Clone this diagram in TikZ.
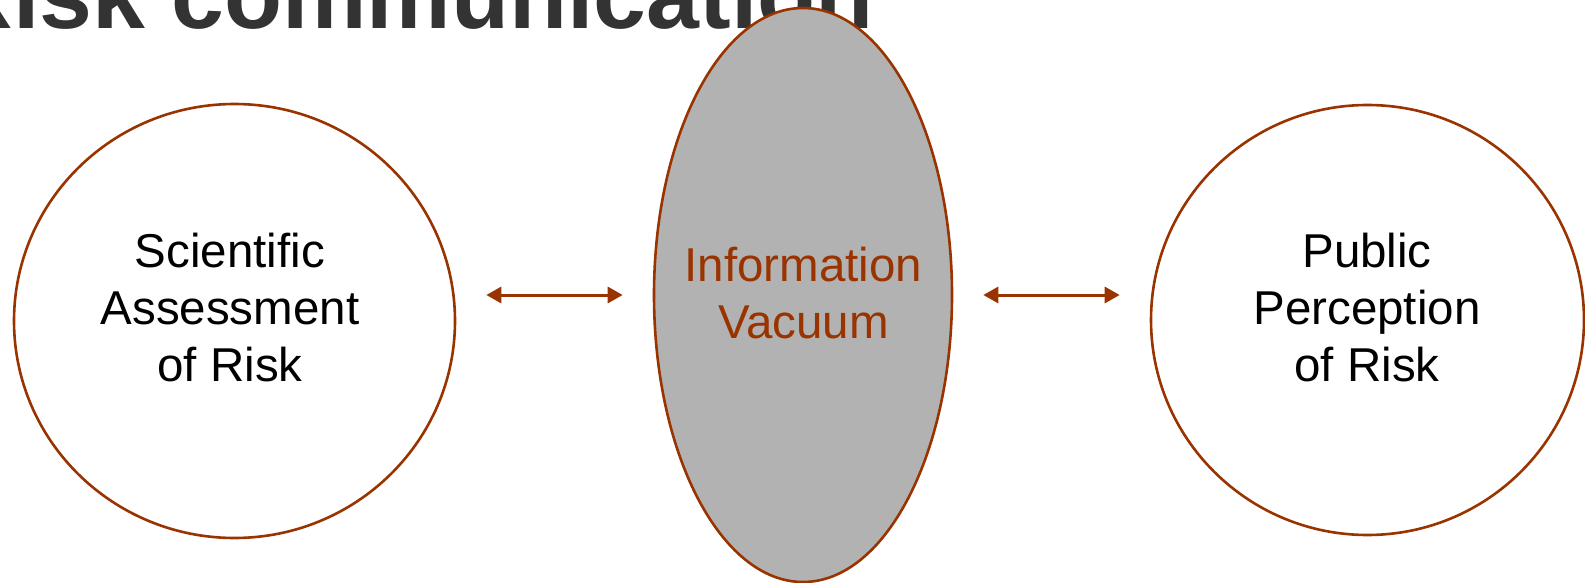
\documentclass[tikz,border=0pt]{standalone}
\usepackage{fontspec}
\setmainfont{Liberation Sans}
\usetikzlibrary{arrows.meta,shapes.geometric}
\definecolor{rust}{HTML}{993300}
\definecolor{titlegray}{HTML}{333333}
\definecolor{vacgray}{HTML}{B2B2B2}
\tikzset{
  riskshape/.style={ellipse, draw=rust, line width=2.6pt, inner sep=0pt},
  bodytext/.style={inner sep=0pt, align=center, font=\fontsize{47.5}{57}\selectfont},
  link/.style={{Triangle[length=15pt,width=16pt]}-{Triangle[length=15pt,width=16pt]}, draw=rust, line width=3pt, shorten <=30pt, shorten >=30pt}
}
\begin{document}
\begin{tikzpicture}[x=1pt,y=-1pt]
\useasboundingbox (0,0) rectangle (1585,583);
\clip (0,0) rectangle (1585,583);
\node[anchor=base east, inner sep=0pt, text=titlegray, font=\fontsize{95}{110}\selectfont\bfseries] (title) at (874,29) {Risk communication};
\node[riskshape, fill=white, minimum width=441pt, minimum height=434pt] (sci) at (234.5,321) {};
\node[riskshape, fill=vacgray, minimum width=298pt, minimum height=574pt] (vac) at (803,295) {};
\node[riskshape, fill=white, minimum width=433pt, minimum height=430pt] (pub) at (1367.5,320) {};
\node[bodytext] (scit) at (230,308) {Scientific\\Assessment\\of Risk};
\node[bodytext, text=rust] (vact) at (803.5,293) {Information\\Vacuum};
\node[bodytext] (pubt) at (1367,308) {Public\\Perception\\of Risk};
\draw[link] (vac.west -| sci.east) -- (vac.west);
\draw[link] (vac.east) -- (vac.east -| pub.west);
\end{tikzpicture}
\end{document}
